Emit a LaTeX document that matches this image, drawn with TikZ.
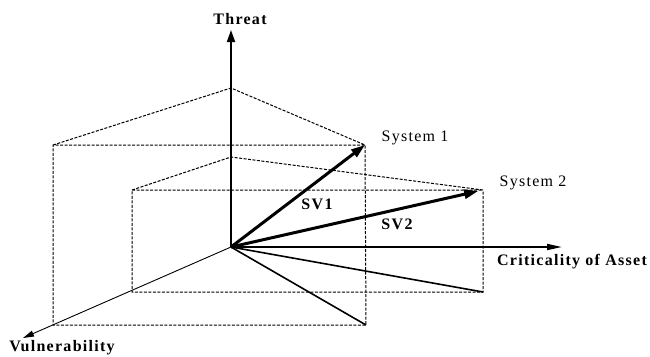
\documentclass[tikz,border=0pt]{standalone}
\usepackage{fontspec}
\setmainfont{Liberation Serif}
\newfontfamily\lblfont[LetterSpace=8]{Liberation Serif}
\usetikzlibrary{arrows.meta}

\begin{document}
\begin{tikzpicture}[
    x=1pt, y=-1pt,
    axis/.style={-{Triangle[length=12pt,width=8pt]},line width=1.8pt},
    thinaxis/.style={-{Triangle[length=11pt,width=6pt]},line width=0.9pt},
    vec/.style={-{Triangle[length=14pt,width=9pt]},line width=3pt},
    guide/.style={dash pattern=on 3pt off 1.5pt,line width=1pt},
    trace/.style={line width=1.6pt},
    lbl/.style={font=\lblfont\fontsize{16}{18}\selectfont,inner sep=0pt,anchor=base},
    tag/.style={lbl,font=\lblfont\bfseries\fontsize{16}{18}\selectfont}
  ]
  \useasboundingbox (0,0) rectangle (650,356);
  % origin, axis tips and system points
  \coordinate (O) at (231,247);
  \coordinate (threattip) at (231,30);
  \coordinate (crittip) at (562,247);
  \coordinate (vulntip) at (23,338);
  \coordinate (sys1) at (365,145);
  \coordinate (sys2) at (483,190);
  % prism for system 1
  \coordinate (top1) at (231,88);
  \coordinate (left1) at (53,145);
  \coordinate (vfoot1) at (53,325);
  \coordinate (foot1) at (366,325);
  % prism for system 2
  \coordinate (top2) at (231,157);
  \coordinate (left2) at (132,190);
  \coordinate (vfoot2) at (132,292);
  \coordinate (foot2) at (483,292);

  \draw[guide] (left1) -- (top1) -- (sys1) -- (left1) -- (vfoot1) -- (foot1) -- (sys1);
  \draw[guide] (left2) -- (top2) -- (sys2) -- (left2) -- (vfoot2) -- (foot2) -- (sys2);

  \draw[axis] (O) -- (threattip);
  \draw[axis,-{Triangle[length=15pt,width=6pt]}] (O) -- (crittip);
  \draw[thinaxis] (O) -- (vulntip);

  \draw[trace] (O) -- (foot1);
  \draw[trace] (O) -- (foot2);
  \draw[vec] (O) -- (sys1);
  \draw[vec,shorten >=5pt] (O) -- (sys2);

  \node[tag] (threat) at (240,24) {Threat};
  \node[tag] (crit) at (572,265) {Criticality of Asset};
  \node[tag] (vuln) at (62,351) {Vulnerability};
  \node[lbl] (name1) at (415,141) {System 1};
  \node[lbl] (name2) at (533,186) {System 2};
  \node[tag] (sv1) at (317,209) {SV1};
  \node[tag] (sv2) at (397,229) {SV2};
\end{tikzpicture}
\end{document}
